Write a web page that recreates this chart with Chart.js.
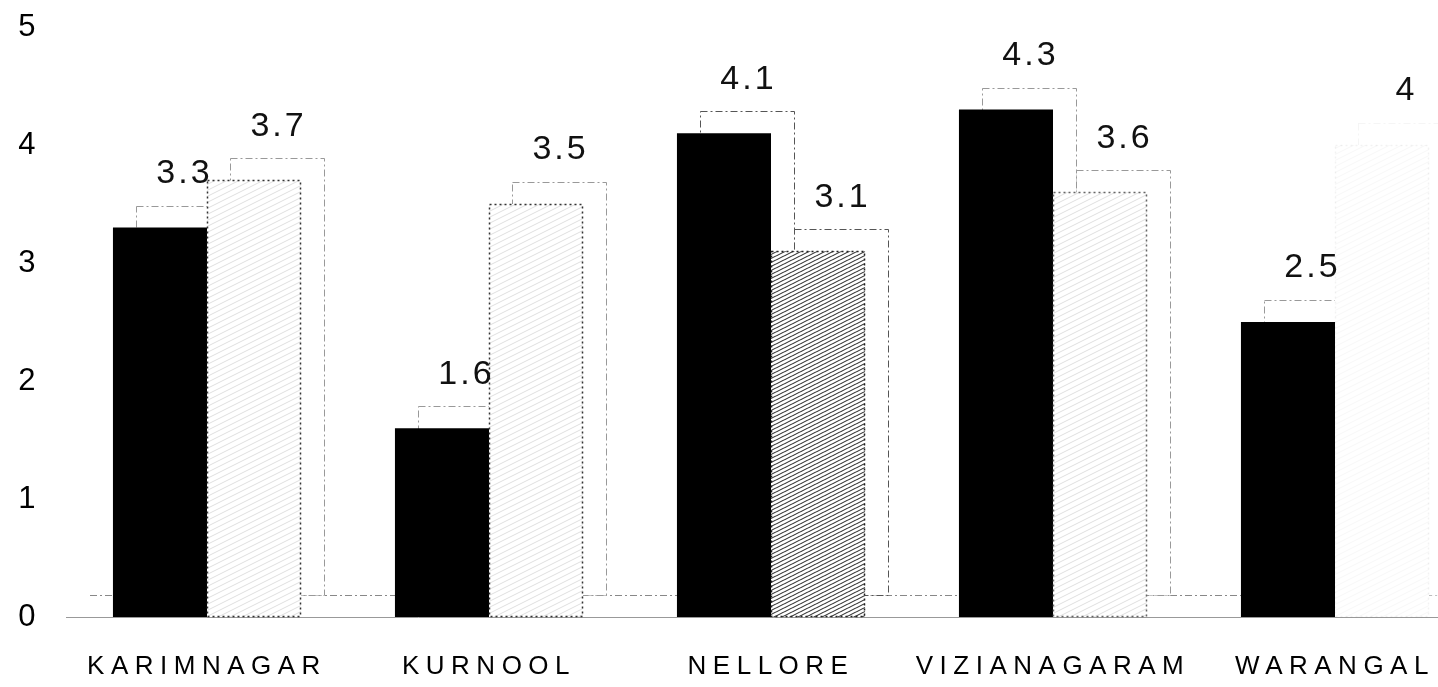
<!DOCTYPE html>
<html>
<head>
<meta charset="utf-8">
<script src="https://cdn.jsdelivr.net/npm/chart.js@4.4.0/dist/chart.umd.min.js"></script>
<style>
  html, body { margin: 0; padding: 0; background: #fff; overflow: hidden; }
  #wrap { position: relative; width: 1480px; height: 687px; }
</style>
</head>
<body>
<div id="wrap"><canvas id="c"></canvas></div>
<script>
// District values for the two series
const districts = ['KARIMNAGAR', 'KURNOOL', 'NELLORE', 'VIZIANAGARAM', 'WARANGAL'];
const solidSeries = [3.3, 1.6, 4.1, 4.3, 2.5];
const shadedSeries = [3.7, 3.5, 3.1, 3.6, 4];
const yTicks = [0, 1, 2, 3, 4, 5];

const FONT = "'Liberation Sans', Arial, Helvetica, sans-serif";
const INK = '#000';
// 3-D depth offset of the back faces
const DEPTH_X = 23;
const DEPTH_Y = 22;

// Diagonal hatch used as a fill pattern
function hatch(alpha, w, h, lw) {
  const c = document.createElement('canvas');
  c.width = w; c.height = h;
  const g = c.getContext('2d');
  g.fillStyle = '#fff';
  g.fillRect(0, 0, w, h);
  g.strokeStyle = 'rgba(0,0,0,' + alpha + ')';
  g.lineWidth = lw;
  g.beginPath();
  for (let k = -1; k <= 1; k++) {
    g.moveTo(0, h + k * h);
    g.lineTo(w, k * h);
  }
  g.stroke();
  return g.createPattern(c, 'repeat');
}

const sparse = hatch(0.13, 12, 6, 1);
const dense = hatch(0.8, 8, 4, 1.1);
const faint = hatch(0.03, 12, 6, 1);
const shadedFills = [sparse, sparse, dense, sparse, faint];
const shadedEdges = ['#333', '#333', '#222', '#666', 'rgba(0,0,0,0.05)'];

// Back faces and floor edge drawn behind the bars
const depthPlugin = {
  id: 'depth',
  beforeDatasetsDraw(chart) {
    const ctx = chart.ctx;
    const area = chart.chartArea;
    const zero = chart.scales.y.getPixelForValue(0);
    ctx.save();
    ctx.letterSpacing = '0px';
    ctx.strokeStyle = '#888';
    ctx.lineWidth = 1;
    ctx.setLineDash([7, 3, 2, 3]);
    ctx.beginPath();
    ctx.moveTo(area.left + 24, zero - DEPTH_Y + 0.5);
    ctx.lineTo(area.right, zero - DEPTH_Y + 0.5);
    ctx.stroke();
    for (let i = 0; i < districts.length; i++) {
      for (let d = 0; d < chart.data.datasets.length; d++) {
        const el = chart.getDatasetMeta(d).data[i];
        const p = el.getProps(['x', 'y', 'base', 'width'], true);
        const left = Math.round(p.x - p.width / 2 + DEPTH_X) + 0.5;
        const top = Math.round(p.y - DEPTH_Y) + 0.5;
        const bottom = Math.round(p.base - DEPTH_Y) + 0.5;
        const w = Math.round(p.width);
        ctx.fillStyle = '#fff';
        ctx.fillRect(left, top, w, bottom - top);
        ctx.strokeStyle = d === 1 && i === 4 ? 'rgba(0,0,0,0.04)' : (i === 2 ? '#555' : '#999');
        ctx.strokeRect(left, top, w, bottom - top);
      }
    }
    ctx.restore();
  },
  afterDatasetsDraw(chart) {
    const ctx = chart.ctx;
    ctx.save();
    // dotted outline of the shaded bars
    ctx.letterSpacing = '0px';
    ctx.lineWidth = 1.5;
    ctx.setLineDash([2, 3]);
    chart.getDatasetMeta(1).data.forEach((el, i) => {
      const p = el.getProps(['x', 'y', 'base', 'width'], true);
      ctx.strokeStyle = shadedEdges[i];
      ctx.strokeRect(Math.round(p.x - p.width / 2) + 0.5, Math.round(p.y) + 0.5,
                     Math.round(p.width) - 1, Math.round(p.base - p.y) - 1);
    });
    // value labels above the back faces
    ctx.setLineDash([]);
    ctx.font = '34px ' + FONT;
    ctx.letterSpacing = '3px';
    ctx.fillStyle = '#111';
    ctx.textAlign = 'center';
    ctx.textBaseline = 'middle';
    chart.data.datasets.forEach((ds, d) => {
      chart.getDatasetMeta(d).data.forEach((el, i) => {
        const p = el.getProps(['x', 'y'], true);
        ctx.fillText(String(ds.data[i]), p.x + DEPTH_X + 1.5, p.y - 54);
      });
    });
    ctx.restore();
  }
};

// Wide letter spacing for the axis lettering
const spacingPlugin = {
  id: 'spacing',
  beforeDraw(chart) { chart.ctx.letterSpacing = '6.5px'; }
};

new Chart(document.getElementById('c'), {
  type: 'bar',
  data: {
    labels: districts,
    datasets: [
      {
        label: 'Series A',
        data: solidSeries,
        backgroundColor: '#000',
        borderWidth: 0,
        barPercentage: 1,
        categoryPercentage: 0.667
      },
      {
        label: 'Series B',
        data: shadedSeries,
        backgroundColor: shadedFills,
        borderWidth: 0,
        barPercentage: 1,
        categoryPercentage: 0.667
      }
    ]
  },
  options: {
    responsive: true,
    maintainAspectRatio: false,
    animation: false,
    layout: { padding: { top: 27, right: 4, bottom: 0, left: 0 } },
    plugins: {
      legend: { display: false },
      tooltip: { enabled: false }
    },
    scales: {
      x: {
        grid: { display: false, drawTicks: false },
        border: { display: true, color: '#999', width: 1, dash: [2, 5] },
        ticks: {
          font: { family: FONT, size: 26 },
          color: INK,
          padding: 34,
          autoSkip: false,
          maxRotation: 0
        },
        afterFit(scale) { scale.height = 70; }
      },
      y: {
        min: yTicks[0],
        max: yTicks[yTicks.length - 1],
        grid: { display: false, drawTicks: false },
        border: { display: false },
        ticks: {
          stepSize: 1,
          font: { family: FONT, size: 31 },
          color: INK,
          padding: 24
        },
        afterFit(scale) {
          scale.width = 66;
          scale.paddingTop = 0;
          scale.paddingBottom = 0;
        }
      }
    }
  },
  plugins: [depthPlugin, spacingPlugin]
});
</script>
</body>
</html>
